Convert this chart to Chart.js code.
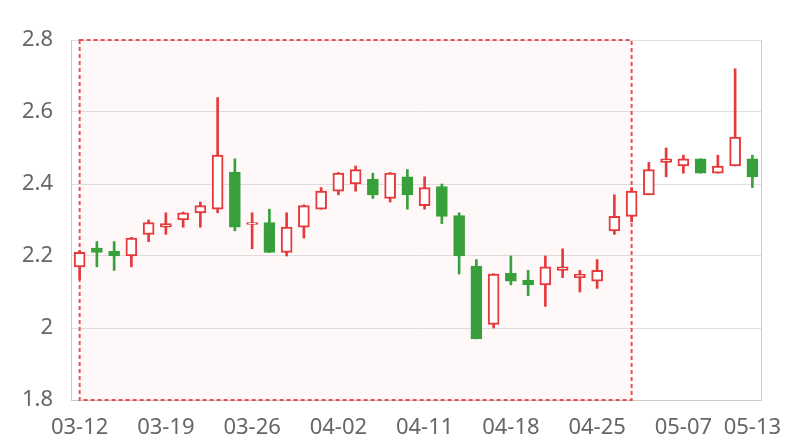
<!DOCTYPE html>
<html>
<head>
<meta charset="utf-8">
<script src="https://cdn.jsdelivr.net/npm/chart.js@4"></script>
<style>
  html, body { margin: 0; padding: 0; background: #fff; }
  #wrap { width: 800px; height: 440px; position: relative; }
</style>
</head>
<body>
<div id="wrap"><canvas id="c"></canvas></div>
<script>
const dates = ['03-12','03-13','03-14','03-15','03-18','03-19','03-20','03-21','03-22','03-25',
               '03-26','03-27','03-28','03-29','04-01','04-02','04-03','04-04','04-08','04-09',
               '04-11','04-12','04-15','04-16','04-17','04-18','04-19','04-22','04-23','04-24',
               '04-25','04-26','04-29','04-30','05-06','05-07','05-08','05-09','05-10','05-13'];
const opens  = [2.17,2.222,2.213,2.20,2.26,2.28,2.30,2.32,2.33,2.433,
                2.288,2.293,2.21,2.28,2.33,2.38,2.40,2.413,2.36,2.42,
                2.34,2.393,2.312,2.172,2.01,2.152,2.133,2.12,2.16,2.14,
                2.13,2.27,2.31,2.37,2.46,2.45,2.47,2.43,2.45,2.47];
const closes = [2.21,2.21,2.20,2.25,2.293,2.29,2.32,2.34,2.48,2.28,
                2.293,2.21,2.28,2.34,2.38,2.43,2.44,2.37,2.43,2.37,
                2.39,2.31,2.20,1.97,2.15,2.13,2.12,2.17,2.17,2.15,
                2.16,2.31,2.38,2.44,2.47,2.47,2.43,2.45,2.53,2.42];
const highs  = [2.215,2.24,2.24,2.252,2.30,2.32,2.322,2.35,2.64,2.47,
                2.32,2.33,2.32,2.342,2.39,2.432,2.45,2.43,2.432,2.44,
                2.42,2.40,2.32,2.19,2.151,2.20,2.16,2.20,2.22,2.16,
                2.19,2.37,2.39,2.46,2.50,2.48,2.47,2.48,2.72,2.48];
const lows   = [2.135,2.17,2.16,2.17,2.24,2.26,2.28,2.28,2.32,2.27,
                2.22,2.21,2.20,2.25,2.33,2.37,2.38,2.36,2.35,2.33,
                2.33,2.29,2.15,1.97,2.00,2.12,2.09,2.06,2.14,2.10,
                2.11,2.26,2.295,2.37,2.42,2.43,2.43,2.43,2.45,2.39];
const yTicks = [1.8, 2.0, 2.2, 2.4, 2.6, 2.8];
const xLabelIdx = [0, 5, 10, 15, 20, 25, 30, 35, 39];
const markStart = '03-12';
const markEnd = '04-29';

const UP = '#e5393c';
const DOWN = '#37a03a';
const isUp = opens.map((o, i) => closes[i] >= o);

const markPlugin = {
  id: 'markArea',
  beforeDatasetsDraw(chart) {
    const { ctx, scales: { x, y }, chartArea } = chart;
    const x0 = x.getPixelForValue(dates.indexOf(markStart));
    const x1 = x.getPixelForValue(dates.indexOf(markEnd));
    const y0 = y.getPixelForValue(yTicks[yTicks.length - 1]);
    const y1 = y.getPixelForValue(yTicks[0]);
    ctx.save();
    ctx.strokeStyle = '#cccccc';
    ctx.lineWidth = 1;
    ctx.beginPath();
    ctx.moveTo(Math.round(chartArea.right) + 0.5, chartArea.top);
    ctx.lineTo(Math.round(chartArea.right) + 0.5, chartArea.bottom);
    ctx.stroke();
    ctx.fillStyle = 'rgba(240,80,80,0.04)';
    ctx.fillRect(x0, y0, x1 - x0, y1 - y0);
    ctx.setLineDash([4, 3]);
    ctx.lineWidth = 2;
    ctx.strokeStyle = 'rgba(230,50,55,0.85)';
    ctx.strokeRect(x0, y0, x1 - x0, y1 - y0);
    ctx.restore();
  }
};

new Chart(document.getElementById('c'), {
  type: 'bar',
  data: {
    labels: dates,
    datasets: [
      {
        label: 'wick',
        data: lows.map((l, i) => [l, highs[i]]),
        backgroundColor: isUp.map(u => u ? UP : DOWN),
        borderWidth: 0,
        barThickness: 2,
        grouped: false,
        order: 2
      },
      {
        label: 'body',
        data: opens.map((o, i) => [o, closes[i]]),
        backgroundColor: isUp.map(u => u ? '#ffffff' : DOWN),
        borderColor: isUp.map(u => u ? UP : DOWN),
        borderWidth: 2,
        borderSkipped: false,
        barThickness: 11,
        grouped: false,
        order: 1
      }
    ]
  },
  options: {
    responsive: true,
    maintainAspectRatio: false,
    animation: false,
    layout: { padding: { top: 40, right: 39, left: 0, bottom: 0 } },
    plugins: { legend: { display: false }, tooltip: { enabled: false } },
    scales: {
      x: {
        grid: { display: false, drawTicks: false },
        border: { display: true, color: '#cccccc' },
        afterFit(s) { s.height = 40; },
        ticks: {
          autoSkip: false,
          maxRotation: 0,
          padding: 15,
          color: '#666666',
          font: { family: 'Noto Sans', size: 22 },
          callback: (v, i) => xLabelIdx.includes(i) ? dates[i] : ''
        }
      },
      y: {
        min: yTicks[0],
        max: yTicks[yTicks.length - 1],
        afterFit(s) { s.width = 71; },
        afterBuildTicks(s) { s.ticks = yTicks.map(v => ({ value: v })); },
        grid: { color: '#e0e0e0', drawTicks: false },
        border: { display: true, color: '#cccccc' },
        ticks: {
          padding: 18,
          color: '#666666',
          font: { family: 'Noto Sans', size: 22 },
          callback: v => String(+v.toFixed(1))
        }
      }
    }
  },
  plugins: [markPlugin]
});
</script>
</body>
</html>
